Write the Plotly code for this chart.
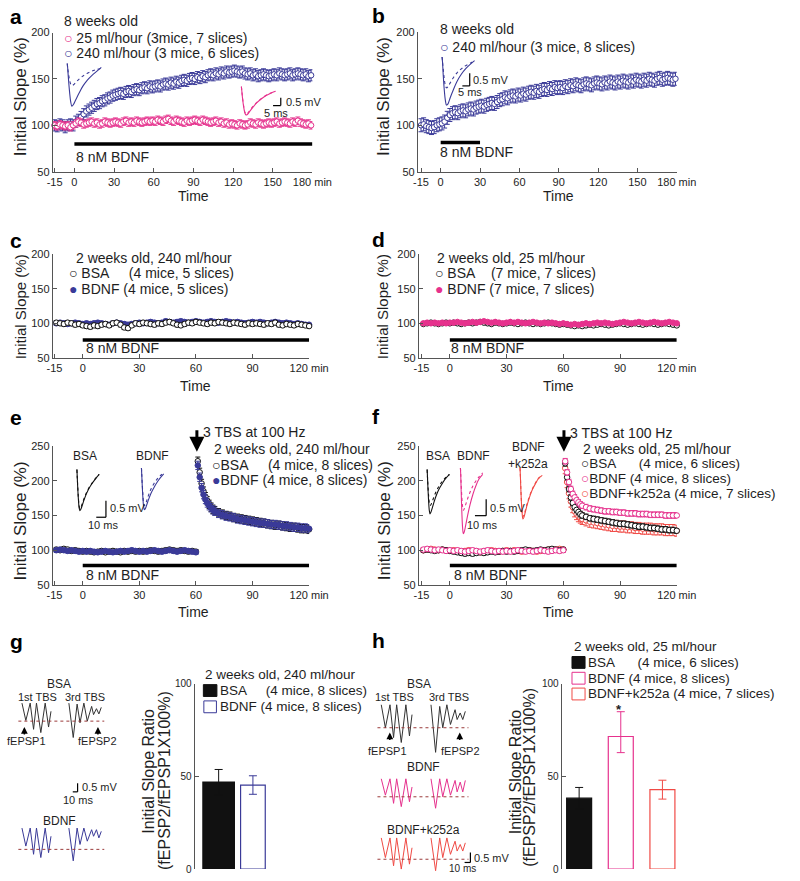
import plotly.graph_objects as go

W, H = 800, 881
FONT = "Liberation Sans, Arial, Helvetica, sans-serif"
BLUE = "#3a3a98"
PINK = "#e6318d"
RED = "#f04a45"
BLK = "#111111"
TXT = "#1e1e1e"
AXC = "#555555"
DOTC = "#9b3a3a"
NB = "\u00a0"

# ======================= DATA =======================
# panels a, b : sampled every 2 min
t_ab = list(range(-15, 180, 2))
a_25 = [100, 99, 101, 100, 99, 100, 98, 100,
        102, 104, 103, 101, 102, 103, 104, 102, 103, 101, 102, 104, 103, 102, 103,
        104, 103, 102, 104, 105, 103, 104, 103, 105, 104, 103, 104, 105, 104, 105,
        104, 106, 105, 104, 106, 107, 105, 104, 106, 105, 104, 103, 105, 104, 105,
        106, 105, 104, 106, 105, 104, 103, 104, 105, 103, 104, 102, 103, 101, 102,
        101, 100, 102, 101, 100, 101, 103, 102, 101, 103, 102, 101, 102, 103, 102,
        103, 104, 102, 103, 104, 103, 102, 104, 103, 105, 103, 102, 101, 102, 100]
a_240 = [100, 99, 101, 100, 98, 100, 101, 100,
         104, 106, 109, 112, 115,
         117, 119, 121, 123, 124, 126, 127, 129, 130, 132,
         133, 134, 135, 134, 136, 137, 136, 138, 139, 138, 140, 141, 140, 142, 141,
         142, 143, 142, 144, 145, 144, 146, 145, 147, 146, 148, 149, 148, 150, 151,
         150, 152, 151, 153, 152, 154, 155, 154, 156, 155, 157, 156, 158, 157, 158,
         159, 158, 157, 158, 156, 155, 156, 154, 155, 153, 154, 155, 154, 153, 154,
         155, 154, 156, 155, 154, 155, 156, 154, 155, 156, 155, 154, 155, 153, 154]
b_240 = [100, 101, 99, 98, 97, 98, 100, 101,
         102, 104, 108, 111, 113, 114, 113, 115, 116, 115, 117, 118, 117, 119, 120,
         121, 120, 122, 123, 124, 123, 125, 127, 128, 130, 129, 131, 132, 131, 133,
         132, 134, 133, 135, 136, 135, 137, 136, 138, 139, 138, 140, 139, 141, 140,
         141, 140, 142, 141, 143, 142, 144, 143, 142, 144, 145, 144, 143, 145, 146,
         145, 144, 146, 145, 147, 146, 145, 147, 146, 148, 147, 146, 148, 147, 149,
         148, 147, 149, 148, 150, 149, 148, 150, 151, 149, 150, 151, 150, 149, 150]
a_25_sem = 4
a_240_sem = 6
b_240_sem = 7

# panels c, d
t_cd = list(range(-14, 121, 2))
c_bsa = [101, 100, 99, 101, 100, 98, 99, 97,
         96, 95, 97, 96, 98, 99, 97, 100, 101, 98, 94, 93, 97, 100, 99,
         101, 100, 99, 98, 100, 99, 101, 102, 100, 98, 97, 99, 101, 100, 102,
         101, 100, 99, 101, 100, 102, 101, 100, 99, 101, 100, 99, 98, 100, 99,
         100, 99, 98, 100, 99, 101, 98, 97, 99, 98, 97, 99, 98, 97, 96]
c_bdnf = [100, 101, 100, 99, 100, 101, 100, 99,
          100, 99, 100, 101, 100, 99, 98, 100, 101, 100, 99, 98, 99, 100, 101,
          100, 101, 102, 101, 100, 101, 103, 102, 101, 102, 103, 102, 101, 102, 103,
          102, 101, 102, 103, 102, 101, 102, 103, 102, 101, 102, 101, 100, 101, 102,
          101, 102, 101, 100, 101, 102, 101, 100, 101, 100, 99, 100, 99, 98, 98]
d_bsa = [99, 100, 101, 100, 99, 100, 101, 100,
         101, 100, 99, 100, 101, 100, 101, 102, 101, 100, 99, 101, 100, 99, 100,
         101, 100, 99, 100, 101, 100, 99, 100, 99, 100, 101, 100, 99, 98, 99,
         98, 97, 96, 97, 96, 97, 98, 97, 98, 99, 98, 97, 98, 99, 100,
         99, 98, 99, 100, 99, 98, 99, 100, 99, 98, 99, 100, 99, 98, 97]
d_bdnf = [100, 101, 100, 101, 100, 101, 100, 101,
          101, 102, 101, 100, 101, 102, 101, 102, 103, 102, 101, 102, 101, 100, 101,
          102, 101, 102, 101, 100, 101, 102, 101, 100, 101, 100, 101, 100, 99, 100,
          99, 98, 99, 98, 99, 100, 99, 100, 101, 100, 101, 100, 99, 100, 101,
          102, 101, 100, 101, 102, 101, 100, 101, 102, 101, 100, 101, 102, 101, 100]
c_sem = 3
d_sem = 2

# panels e, f : before and after theta-burst stimulation
t_pre = list(range(-14, 61, 2))
t_post = [61, 62, 63, 64, 65, 66, 67, 68, 69, 70,
          72, 74, 76, 78, 80, 82, 84, 86, 88, 90, 92, 94, 96, 98, 100,
          102, 104, 106, 108, 110, 112, 114, 116, 118, 120]
e_bsa_pre = [101, 100, 102, 101, 99, 100, 99, 98,
             99, 98, 97, 98, 99, 97, 98, 99, 98, 97, 99, 98, 99, 98, 99,
             98, 99, 100, 99, 98, 99, 100, 101, 100, 99, 100, 99, 98, 99, 98]
e_bdnf_pre = [100, 101, 100, 99, 100, 99, 98, 99,
              98, 99, 98, 97, 98, 99, 98, 97, 98, 99, 98, 99, 100, 99, 98,
              99, 98, 99, 100, 99, 98, 99, 100, 99, 98, 99, 100, 99, 98, 97]
e_bsa_post = [228, 212, 196, 185, 177, 171, 166, 162, 159, 157,
              154, 152, 150, 149, 147, 146, 145, 144, 143, 142, 141, 140, 139, 138, 137,
              136, 136, 135, 134, 133, 133, 132, 131, 131, 130]
e_bdnf_post = [222, 205, 190, 180, 173, 168, 164, 161, 158, 156,
               153, 151, 149, 148, 147, 145, 144, 143, 142, 141, 140, 139, 139, 138, 137,
               137, 136, 135, 135, 134, 133, 133, 132, 132, 131]
f_bsa_pre = [100, 101, 100, 99, 100, 101, 100, 99,
             98, 97, 96, 95, 96, 95, 96, 97, 96, 97, 98, 97, 98, 99, 98,
             99, 98, 99, 100, 101, 100, 99, 100, 101, 100, 101, 102, 101, 100, 101]
f_bdnf_pre = [101, 102, 101, 100, 101, 100, 99, 100,
              99, 100, 99, 98, 99, 100, 99, 98, 99, 100, 99, 98, 99, 98, 99,
              98, 99, 100, 99, 98, 99, 98, 99, 100, 99, 98, 99, 100, 99, 100]
f_k_pre = [100, 101, 102, 101, 100, 101, 100, 99,
           100, 99, 98, 99, 100, 99, 98, 97, 98, 99, 100, 99, 98, 99, 100,
           99, 100, 99, 98, 99, 100, 99, 98, 99, 100, 101, 100, 101, 102, 101]
f_bsa_post = [225, 205, 188, 176, 168, 162, 158, 155, 152, 150,
              148, 146, 145, 144, 143, 142, 141, 140, 139, 138, 138, 137, 136, 135, 134,
              134, 133, 132, 132, 131, 130, 130, 129, 129, 128]
f_bdnf_post = [228, 212, 198, 188, 181, 176, 172, 169, 166, 164,
               162, 160, 159, 158, 157, 156, 156, 155, 155, 154, 154, 153, 153, 153, 152,
               152, 152, 151, 151, 151, 151, 150, 150, 150, 150]
f_k_post = [218, 198, 182, 170, 162, 156, 152, 149, 147, 145,
            143, 141, 140, 139, 138, 137, 136, 135, 135, 134, 134, 133, 133, 132, 132,
            131, 131, 131, 130, 130, 130, 129, 129, 129, 128]
e_pre_sem = 3
e_post_sem = 6
f_pre_sem = 3
f_post_sem = 4
f_k_post_sem = 8

# drug application periods (min)
bdnf_a = [0, 180]
bdnf_b = [0, 30]
bdnf_cdef = [0, 120]

# example fEPSP traces (ms, mV)
wave_t_ab = [0, 0.3, 0.8, 1.5, 2.2, 3.0, 4.0, 5.5, 7.5, 10, 13, 16, 19, 22]
a_240_pre_wave = [0.3, 0.0, -0.35, -0.75, -1.0, -1.1, -1.05, -0.9, -0.7, -0.5, -0.32, -0.18, -0.08, 0.0]
a_240_post_wave = [0.3, 0.0, -0.7, -1.5, -2.1, -2.4, -2.3, -2.0, -1.6, -1.15, -0.75, -0.45, -0.2, 0.05]
a_25_pre_wave = [0.3, 0.0, -0.45, -0.95, -1.3, -1.45, -1.4, -1.2, -0.95, -0.7, -0.45, -0.25, -0.1, 0.0]
a_25_post_wave = [0.3, 0.0, -0.5, -1.0, -1.35, -1.5, -1.45, -1.25, -1.0, -0.72, -0.47, -0.27, -0.12, 0.0]
b_pre_wave = [0.2, 0.0, -0.3, -0.7, -0.95, -1.05, -1.0, -0.85, -0.65, -0.45, -0.28, -0.15, -0.05, 0.05]
b_post_wave = [0.2, 0.0, -0.55, -1.15, -1.55, -1.75, -1.7, -1.45, -1.15, -0.8, -0.5, -0.27, -0.1, 0.05]

wave_t_ef = [0, 0.3, 0.8, 1.5, 2.2, 3.0, 4.0, 5.5, 7.5, 10, 13, 16, 19, 23]
e_bsa_pre_wave = [0.2, 0.0, -0.3, -0.65, -0.9, -1.0, -0.97, -0.85, -0.68, -0.5, -0.33, -0.2, -0.08, 0.05]
e_bsa_post_wave = [0.2, 0.0, -0.33, -0.7, -0.95, -1.06, -1.02, -0.9, -0.72, -0.53, -0.35, -0.21, -0.09, 0.05]
e_bdnf_pre_wave = [0.2, 0.0, -0.28, -0.62, -0.87, -0.96, -0.93, -0.8, -0.62, -0.44, -0.28, -0.15, -0.05, 0.05]
e_bdnf_post_wave = [0.2, 0.0, -0.33, -0.72, -0.98, -1.08, -1.05, -0.93, -0.76, -0.57, -0.4, -0.25, -0.12, 0.02]
f_bsa_pre_wave = [0.2, 0.0, -0.28, -0.6, -0.82, -0.9, -0.87, -0.76, -0.6, -0.43, -0.27, -0.15, -0.05, 0.05]
f_bsa_post_wave = [0.2, 0.0, -0.35, -0.76, -1.05, -1.16, -1.1, -0.96, -0.76, -0.55, -0.36, -0.21, -0.08, 0.05]
f_bdnf_pre_wave = [0.2, 0.0, -0.33, -0.72, -0.98, -1.1, -1.05, -0.92, -0.74, -0.54, -0.35, -0.2, -0.08, 0.05]
f_bdnf_post_wave = [0.2, 0.0, -0.55, -1.2, -1.62, -1.82, -1.76, -1.55, -1.25, -0.92, -0.6, -0.35, -0.15, 0.0]
f_k_pre_wave = [0.2, 0.0, -0.4, -0.85, -1.15, -1.3, -1.25, -1.1, -0.88, -0.65, -0.43, -0.26, -0.12, -0.02]
f_k_post_wave = [0.2, 0.0, -0.42, -0.9, -1.2, -1.37, -1.32, -1.15, -0.92, -0.68, -0.45, -0.28, -0.13, -0.03]

# theta-burst traces (1st and 3rd burst, ms, mV)
tbs_t = [13, 21, 30, 37, 43, 52, 61, 68, 73, None, 110, 119, 127, 133, 141, 148, 157, 161, 167, 172, 177]
g_bsa_tbs = [1.1, 0.04, 1.1, -0.5, 1.1, -0.7, 1.1, -0.36, 0.6, None, 1.1, -1.0, 1.04, -0.1, 1.1, 0.0, 0.9, 0.4, 0.76, 0.44, 0.84]
g_bdnf_tbs = [1.3, 0.2, 1.3, -0.3, 1.3, -0.5, 1.3, -0.2, 0.8, None, 1.3, -0.7, 1.3, 0.3, 1.3, 0.5, 1.2, 0.8, 1.2, 0.7, 1.1]
h_bsa_tbs = [1.4, 0.0, 1.4, -0.6, 1.4, -0.9, 1.4, -0.5, 0.8, None, 1.4, -1.5, 1.3, 0.0, 1.4, 0.2, 1.1, 0.5, 0.9, 0.5, 1.0]
h_bdnf_tbs = [1.1, 0.1, 1.1, -0.4, 1.1, -0.6, 1.1, -0.3, 0.6, None, 1.1, -0.7, 1.1, 0.0, 1.1, 0.1, 1.0, 0.3, 0.9, 0.3, 1.0]
h_k_tbs = [1.3, 0.1, 1.3, -0.4, 1.3, -0.6, 1.3, -0.3, 0.7, None, 1.3, -0.7, 1.3, 0.1, 1.3, 0.3, 1.1, 0.5, 0.9, 0.5, 1.0]

# bar charts (initial slope ratio, %)
g_groups = ["BSA", "BDNF"]
g_mean = [47.0, 45.4]
g_err_hi = [6.8, 5.0]
g_err_lo = [6.8, 5.0]
h_groups = ["BSA", "BDNF", "BDNF+k252a"]
h_mean = [38.3, 71.6, 42.9]
h_err_hi = [5.8, 13.4, 5.1]
h_err_lo = [5.8, 8.7, 5.1]

time_ticks_a = [-15, 0, 30, 60, 90, 120, 150, 180]
time_text_a = ["-15", "0", "30", "60", "90", "120", "150", "180 min"]
time_ticks_c = [-15, 0, 30, 60, 90, 120]
time_text_c = ["-15", "0", "30", "60", "90", "120 min"]

# ======================= FIGURE =======================
fig = go.Figure()
LAY = {}
SHAPES = []
ANN = []
_n = [0]


def make_axes(x0, x1, y0, y1, xr, yr, xticks=None, yticks=None, xtext=None, tsize=11):
    _n[0] += 1
    k = _n[0]
    s = "" if k == 1 else str(k)
    base = dict(showgrid=False, zeroline=False, fixedrange=True)
    xa = dict(base, domain=[x0 / W, x1 / W], range=xr, anchor="y" + s)
    ya = dict(base, domain=[1 - y1 / H, 1 - y0 / H], range=yr, anchor="x" + s)
    for ax, ticks, ttext in ((xa, xticks, xtext), (ya, yticks, None)):
        if ticks is None:
            ax.update(visible=False)
        else:
            ax.update(visible=True, showline=True, linecolor=AXC, linewidth=1,
                      ticks="inside", ticklen=4, tickwidth=1, tickcolor=AXC,
                      tickvals=ticks, tickfont=dict(size=tsize, color=TXT, family=FONT))
            if ttext is not None:
                ax.update(ticktext=ttext)
    LAY["xaxis" + s] = xa
    LAY["yaxis" + s] = ya
    return "x" + s, "y" + s


def ts(ax, t, v, sem, color, filled):
    fig.add_trace(go.Scatter(
        x=t, y=v, xaxis=ax[0], yaxis=ax[1], mode="markers",
        marker=dict(symbol="circle", size=5.5, color=color if filled else "white",
                    line=dict(color=color, width=1)),
        error_y=dict(type="constant", value=sem, color=color, thickness=1, width=2.5),
        showlegend=False, hoverinfo="skip", cliponaxis=False))


def wave(ax, t, v, color, dash="solid", smooth=True, width=1.1):
    fig.add_trace(go.Scatter(
        x=t, y=v, xaxis=ax[0], yaxis=ax[1], mode="lines",
        line=dict(color=color, width=width, dash=dash, shape="spline" if smooth else "linear"),
        showlegend=False, hoverinfo="skip", cliponaxis=False, connectgaps=False))


def T(x, y, s, size=14, anchor="left", color=TXT, angle=0):
    ANN.append(dict(x=x / W, y=1 - y / H, xref="paper", yref="paper", text=s,
                    showarrow=False, xanchor=anchor, yanchor="middle", textangle=angle,
                    font=dict(size=size, color=color, family=FONT)))


def letter(x, y, s):
    T(x, y, "<b>%s</b>" % s, size=21, color="#000000")


def pline(x0, y0, x1, y1, w=1.2, color="#000000"):
    SHAPES.append(dict(type="line", xref="paper", yref="paper", x0=x0 / W, x1=x1 / W,
                       y0=1 - y0 / H, y1=1 - y1 / H, line=dict(color=color, width=w)))


def scalebar(xv, ytop, ybot, xleft):
    pline(xv, ytop, xv, ybot)
    pline(xleft, ybot, xv, ybot)


def drug_bar(ax, period, level):
    SHAPES.append(dict(type="line", xref=ax[0], yref=ax[1], x0=period[0], x1=period[1],
                       y0=level, y1=level, line=dict(color="#000000", width=3.5)))


def baseline(ax):
    SHAPES.append(dict(type="line", xref=ax[0] + " domain", yref=ax[1], x0=0.03, x1=0.99,
                       y0=0, y1=0, line=dict(color=DOTC, width=1, dash="dot")))


def up_arrow(x, ytip):
    ANN.append(dict(x=x / W, y=1 - ytip / H, xref="paper", yref="paper", text="",
                    showarrow=True, ax=0, ay=9, arrowhead=2, arrowsize=0.9,
                    arrowwidth=1.5, arrowcolor="#000000"))


def tbs_arrow(x, ytip):
    ANN.append(dict(x=x / W, y=1 - ytip / H, xref="paper", yref="paper", text="",
                    showarrow=True, ax=0, ay=-23, arrowhead=2, arrowsize=1,
                    arrowwidth=3, arrowcolor="#000000"))


def circ(color, filled=False):
    return '<span style="color:%s">%s</span>' % (color, "\u25cf" if filled else "\u25cb")


# ---------- panel a ----------
axA = make_axes(48.3, 316.7, 27, 168, [-16.4, 180], [50, 200], time_ticks_a, [50, 100, 150, 200], time_text_a)
ts(axA, t_ab, a_240, a_240_sem, BLUE, False)
ts(axA, t_ab, a_25, a_25_sem, PINK, False)
drug_bar(axA, bdnf_a, 80)
insA1 = make_axes(61.7, 101.7, 55.1, 104.7, [-1, 24], [-2.6, 0.5])
wave(insA1, wave_t_ab, a_240_pre_wave, BLUE, "dot")
wave(insA1, wave_t_ab, a_240_post_wave, BLUE)
insA2 = make_axes(241.7, 281.7, 78.5, 128.1, [-1, 24], [-2.6, 0.5])
wave(insA2, wave_t_ab, a_25_pre_wave, PINK, "dot")
wave(insA2, wave_t_ab, a_25_post_wave, PINK)
scalebar(284, 93, 101, 276)
T(287, 97, "0.5 mV", 11)
T(279, 108, "5 ms", 11, "center")
letter(2, 11, "a")
T(58, 15, "8 weeks old")
T(58, 32, circ(PINK) + " 25 ml/hour (3mice, 7 slices)")
T(58, 48, circ(BLUE) + " 240 ml/hour (3 mice, 6 slices)")
T(70, 153, "8 nM BDNF")
T(15, 92, "Initial Slope (%)", 17, "center", angle=-90)
T(194, 193, "Time", 14, "center")

# ---------- panel b ----------
axB = make_axes(425.7, 693.3, 26.7, 168, [-17.4, 180], [50, 200], time_ticks_a, [50, 100, 150, 200], time_text_a)
ts(axB, t_ab, b_240, b_240_sem, BLUE, False)
drug_bar(axB, bdnf_b, 81.5)
insB = make_axes(449.2, 487.4, 46.7, 106.7, [-1, 24], [-2.0, 0.4])
wave(insB, wave_t_ab, b_pre_wave, BLUE, "dot")
wave(insB, wave_t_ab, b_post_wave, BLUE)
scalebar(479.3, 68.3, 81, 471.7)
T(481, 75, "0.5 mV", 11)
T(479.5, 87, "5 ms", 11, "center")
letter(376, 10, "b")
T(446, 23, "8 weeks old")
T(446, 41.7, circ(BLUE) + " 240 ml/hour (3 mice, 8 slices)")
T(447, 148, "8 nM BDNF")
T(390, 92, "Initial Slope (%)", 17, "center", angle=-90)
T(571, 193, "Time", 14, "center")

# ---------- panel c ----------
axC = make_axes(48.3, 313.3, 251.7, 356.7, [-15.9, 120], [50, 200], time_ticks_c, [50, 100, 150, 200], time_text_c)
ts(axC, t_cd, c_bdnf, c_sem, BLUE, True)
ts(axC, t_cd, c_bsa, c_sem, BLK, False)
drug_bar(axC, bdnf_cdef, 76)
letter(2, 238, "c")
T(70, 255, "2 weeks old, 240 ml/hour")
T(63, 271, circ(BLK) + " BSA" + NB * 5 + "(4 mice, 5 slices)")
T(63, 287.3, circ(BLUE, True) + " BDNF (4 mice, 5 slices)")
T(81, 346.7, "8 nM BDNF")
T(15, 305, "Initial Slope (%)", 15, "center", angle=-90)
T(196, 385, "Time", 14, "center")

# ---------- panel d ----------
axD = make_axes(426.7, 693.3, 251.7, 356.7, [-16.4, 120], [50, 200], time_ticks_c, [50, 100, 150, 200], time_text_c)
ts(axD, t_cd, d_bsa, d_sem, BLK, False)
ts(axD, t_cd, d_bdnf, d_sem, PINK, True)
drug_bar(axD, bdnf_cdef, 76)
letter(376, 237, "d")
T(443, 255, "2 weeks old, 25 ml/hour")
T(441, 271, circ(BLK) + " BSA" + NB * 4 + "(7 mice, 7 slices)")
T(441, 287.3, circ(PINK, True) + " BDNF (7 mice, 7 slices)")
T(458, 346.7, "8 nM BDNF")
T(390, 305, "Initial Slope (%)", 15, "center", angle=-90)
T(571, 385, "Time", 14, "center")

# ---------- panel e ----------
axE = make_axes(48.3, 313.3, 446, 587, [-15.9, 120], [50, 250], time_ticks_c, [50, 100, 150, 200, 250], time_text_c)
ts(axE, t_pre, e_bsa_pre, e_pre_sem, BLK, False)
ts(axE, t_pre, e_bdnf_pre, e_pre_sem, BLUE, True)
ts(axE, t_post, e_bsa_post, e_post_sem, BLK, False)
ts(axE, t_post, e_bdnf_post, e_post_sem, BLUE, True)
drug_bar(axE, bdnf_cdef, 78)
insE1 = make_axes(71.3, 99.3, 463.4, 519.5, [-2, 26], [-1.3, 0.4])
wave(insE1, wave_t_ef, e_bsa_pre_wave, BLK, "dot")
wave(insE1, wave_t_ef, e_bsa_post_wave, BLK)
insE2 = make_axes(138, 166, 461.7, 517.8, [-2, 26], [-1.3, 0.4])
wave(insE2, wave_t_ef, e_bdnf_pre_wave, BLUE, "dot")
wave(insE2, wave_t_ef, e_bdnf_post_wave, BLUE)
scalebar(103.3, 501.7, 518.3, 93.3)
T(105, 509, "0.5 mV", 11)
T(100, 526, "10 ms", 11, "center")
T(81.7, 456, "BSA", 12, "center")
T(151.7, 456, "BDNF", 12, "center")
tbs_arrow(197.3, 452)
letter(2, 417, "e")
T(202, 432, "3 TBS at 100 Hz")
T(213, 449.3, "2 weeks old, 240 ml/hour")
T(211, 465, circ(BLK) + "BSA" + NB * 5 + "(4 mice, 8 slices)")
T(211, 480.5, circ(BLUE, True) + "BDNF (4 mice, 8 slices)")
T(81, 577, "8 nM BDNF")
T(15, 522, "Initial Slope (%)", 17, "center", angle=-90)
T(194, 614, "Time", 14, "center")

# ---------- panel f ----------
axF = make_axes(426.7, 693.3, 446, 587, [-16.4, 120], [50, 250], time_ticks_c, [50, 100, 150, 200, 250], time_text_c)
ts(axF, t_pre, f_k_pre, f_pre_sem, RED, False)
ts(axF, t_pre, f_bsa_pre, f_pre_sem, BLK, False)
ts(axF, t_pre, f_bdnf_pre, f_pre_sem, PINK, False)
ts(axF, t_post, f_k_post, f_k_post_sem, RED, False)
ts(axF, t_post, f_bsa_post, f_post_sem, BLK, False)
ts(axF, t_post, f_bdnf_post, f_post_sem, PINK, False)
drug_bar(axF, bdnf_cdef, 78)
insF1 = make_axes(433.3, 461.3, 463.4, 542.6, [-2, 26], [-2.0, 0.4])
wave(insF1, wave_t_ef, f_bsa_pre_wave, BLK, "dot")
wave(insF1, wave_t_ef, f_bsa_post_wave, BLK)
insF2 = make_axes(467.7, 495.7, 461.7, 540.9, [-2, 26], [-2.0, 0.4])
wave(insF2, wave_t_ef, f_bdnf_pre_wave, PINK, "dot")
wave(insF2, wave_t_ef, f_bdnf_post_wave, PINK)
insF3 = make_axes(529.3, 557.3, 461.7, 540.9, [-2, 26], [-2.0, 0.4])
wave(insF3, wave_t_ef, f_k_pre_wave, RED, "dot")
wave(insF3, wave_t_ef, f_k_post_wave, RED)
scalebar(496.3, 500, 516.7, 484.7)
T(498.5, 509, "0.5 mV", 11)
T(492, 526, "10 ms", 11, "center")
T(446.7, 456, "BSA", 12, "center")
T(483.3, 456, "BDNF", 12, "center")
T(540, 446.7, "BDNF", 12, "center")
T(540, 464, "+k252a", 12, "center")
tbs_arrow(576.7, 452)
letter(376, 416, "f")
T(581, 433, "3 TBS at 100 Hz")
T(594, 449.3, "2 weeks old, 25 ml/hour")
T(592, 463.8, circ(BLK) + "BSA" + NB * 6 + "(4 mice, 6 slices)", 13.5)
T(592, 479, circ(PINK) + "BDNF (4 mice, 8 slices)", 13.5)
T(592, 494.5, circ(RED) + "BDNF+k252a (4 mice, 7 slices)", 13.5)
T(461, 577, "8 nM BDNF")
T(392, 522, "Initial Slope (%)", 17, "center", angle=-90)
T(571, 614, "Time", 14, "center")

# ---------- panel g ----------
insG1 = make_axes(10, 102.5, 700.1, 746.6, [0, 185], [-1.3, 1.5])
baseline(insG1)
wave(insG1, tbs_t, g_bsa_tbs, "#333333", smooth=False, width=1)
insG2 = make_axes(10, 102.5, 830.1, 876.6, [0, 185], [-1.3, 1.5])
baseline(insG2)
wave(insG2, tbs_t, g_bdnf_tbs, BLUE, smooth=False, width=1)
up_arrow(19, 731)
up_arrow(95, 731)
letter(2, 644, "g")
T(55, 687.3, "BSA", 12, "center")
T(33, 700.7, "1st TBS", 11, "center")
T(82, 700.7, "3rd TBS", 11, "center")
T(21, 745, "fEPSP1", 11, "center")
T(95, 745, "fEPSP2", 11, "center")
T(55, 826.7, "BDNF", 12, "center")
scalebar(74, 788, 796.7, 69)
T(76, 791.7, "0.5 mV", 11)
T(74, 805, "10 ms", 11, "center")

axG = make_axes(195, 280, 687.3, 875, [-0.7, 1.7], [0, 100], None, [0, 50, 100], tsize=10)
g_fill = [BLK, "white"]
g_line = [BLK, BLUE]
g_width = [0.92, 0.72]
for i in range(len(g_groups)):
    fig.add_trace(go.Bar(
        x=[i], y=[g_mean[i]], width=[g_width[i]], xaxis=axG[0], yaxis=axG[1],
        marker=dict(color=g_fill[i], line=dict(color=g_line[i], width=1.2)),
        error_y=dict(type="data", symmetric=False, array=[g_err_hi[i]], arrayminus=[g_err_lo[i]],
                     color=g_line[i], thickness=1, width=4),
        showlegend=False, hoverinfo="skip"))
T(204, 678, "2 weeks old, 240 ml/hour", 13.5)
SHAPES.append(dict(type="rect", xref="paper", yref="paper", x0=204 / W, x1=218 / W,
                   y0=1 - 700 / H, y1=1 - 688 / H, fillcolor=BLK, line=dict(color=BLK, width=1)))
SHAPES.append(dict(type="rect", xref="paper", yref="paper", x0=204.5 / W, x1=217.5 / W,
                   y0=1 - 716.5 / H, y1=1 - 704.5 / H, fillcolor="white", line=dict(color=BLUE, width=1)))
T(219, 694, "BSA" + NB * 5 + "(4 mice, 8 slices)", 13.5)
T(219, 710.5, "BDNF (4 mice, 8 slices)", 13.5)
T(147, 776, "Initial Slope Ratio", 16, "center", angle=-90)
T(164, 785, "(fEPSP2/fEPSP1X100%)", 16, "center", angle=-90)

# ---------- panel h ----------
insH1 = make_axes(381, 479, 705.1, 758.3, [0, 185], [-1.6, 1.6])
baseline(insH1)
wave(insH1, tbs_t, h_bsa_tbs, "#333333", smooth=False, width=1)
insH2 = make_axes(381, 479, 778.5, 818.3, [0, 185], [-1.0, 1.4])
baseline(insH2)
wave(insH2, tbs_t, h_bdnf_tbs, PINK, smooth=False, width=1)
insH3 = make_axes(381, 479, 840.1, 880.8, [0, 185], [-0.95, 1.5])
baseline(insH3)
wave(insH3, tbs_t, h_k_tbs, RED, smooth=False, width=1)
up_arrow(396.7, 736.5)
up_arrow(469, 736.5)
letter(376, 643, "h")
T(426.7, 687.3, "BSA", 12, "center")
T(402, 700.7, "1st TBS", 11, "center")
T(458.3, 700.7, "3rd TBS", 11, "center")
T(394, 755, "fEPSP1", 11, "center")
T(470, 755, "fEPSP2", 11, "center")
T(431.7, 771.7, "BDNF", 12, "center")
T(432, 835, "BDNF+k252a", 12, "center")
scalebar(480, 858.3, 868.3, 474)
T(482, 864, "0.5 mV", 11)
T(471.7, 874.5, "10 ms", 10, "center")

axH = make_axes(574.3, 700, 687.3, 875, [-0.42, 2.5], [0, 100], None, [0, 50, 100], tsize=10)
h_fill = [BLK, "white", "white"]
h_line = [BLK, PINK, RED]
for i in range(len(h_groups)):
    fig.add_trace(go.Bar(
        x=[i], y=[h_mean[i]], width=[0.6], xaxis=axH[0], yaxis=axH[1],
        marker=dict(color=h_fill[i], line=dict(color=h_line[i], width=1.2)),
        error_y=dict(type="data", symmetric=False, array=[h_err_hi[i]], arrayminus=[h_err_lo[i]],
                     color=h_line[i], thickness=1, width=4),
        showlegend=False, hoverinfo="skip"))
T(633.3, 713, "<b>*</b>", 13, "center")
T(585, 649.5, "2 weeks old, 25 ml/hour", 13.5)
for yy, col, fill in ((665.5, BLK, BLK), (681.5, PINK, "white"), (697.5, RED, "white")):
    SHAPES.append(dict(type="rect", xref="paper", yref="paper", x0=585 / W, x1=598.5 / W,
                       y0=1 - (yy + 6) / H, y1=1 - (yy - 6) / H, fillcolor=fill,
                       line=dict(color=col, width=1)))
T(599, 665.5, "BSA" + NB * 6 + "(4 mice, 6 slices)", 13.5)
T(599, 681.5, "BDNF (4 mice, 8 slices)", 13.5)
T(599, 697.5, "BDNF+k252a (4 mice, 7 slices)", 13.5)
T(527, 776, "Initial Slope Ratio", 16, "center", angle=-90)
T(541, 782, "(fEPSP2/fEPSP1X100%)", 16, "center", angle=-90)

fig.update_layout(
    width=W, height=H, margin=dict(l=0, r=0, t=0, b=0),
    paper_bgcolor="white", plot_bgcolor="rgba(0,0,0,0)",
    showlegend=False, barmode="overlay",
    font=dict(family=FONT, color=TXT),
    shapes=SHAPES, annotations=ANN, **LAY)

fig.write_html("out.html", config={"displayModeBar": False},
               post_script="document.body.style.margin='0px';document.body.style.overflow='hidden';")
